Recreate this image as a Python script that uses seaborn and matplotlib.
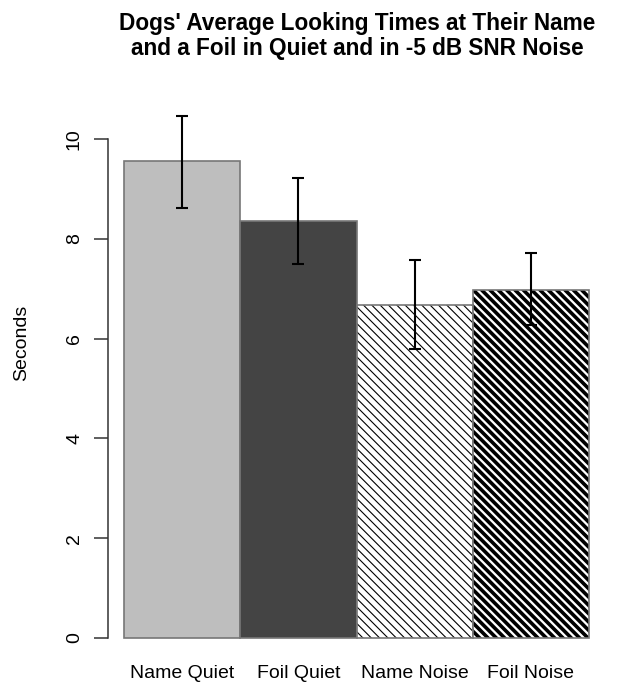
import numpy as np
import pandas as pd
import matplotlib
matplotlib.use('Agg')
import matplotlib.pyplot as plt
import seaborn as sns

# values
conditions = ['Name Quiet', 'Foil Quiet', 'Name Noise', 'Foil Noise']
mean_seconds = [9.56, 8.36, 6.67, 6.97]
err_low = [8.62, 7.49, 5.79, 6.27]
err_high = [10.46, 9.22, 7.57, 7.72]
bar_colors = ['#bebebe', '#444444', '#ffffff', '#ffffff']
hatches = [None, None, '\\\\\\\\', '\\\\\\\\']

sns.set_theme(style='white')
plt.rcParams['font.family'] = ['Liberation Sans', 'DejaVu Sans']
plt.rcParams['text.color'] = 'black'
plt.rcParams['axes.labelcolor'] = 'black'
plt.rcParams['xtick.color'] = 'black'
plt.rcParams['ytick.color'] = 'black'

df = pd.DataFrame({'condition': conditions, 'seconds': mean_seconds})

fig = plt.figure(figsize=(6.27, 6.84), dpi=100)
ax = fig.add_axes([108 / 627, 1 - 648 / 684, 497 / 627, (648 - 104) / 684])

sns.barplot(data=df, x='condition', y='seconds', hue='condition',
            palette=bar_colors, width=1.0, edgecolor='#777777', linewidth=1.2,
            errorbar=None, legend=False, ax=ax)

for i, p in enumerate(ax.patches):
    if hatches[i]:
        p.set_hatch(hatches[i])
        p.set_edgecolor('#777777')
        try:
            p.set_hatch_linewidth(0.8 if i == 2 else 2.6)
        except AttributeError:
            pass
        p._hatch_color = matplotlib.colors.to_rgba('black')

# error bars
x = np.arange(len(conditions))
lo = np.array(mean_seconds) - np.array(err_low)
hi = np.array(err_high) - np.array(mean_seconds)
ax.errorbar(x, mean_seconds, yerr=[lo, hi], fmt='none', ecolor='black',
            elinewidth=1.5, capsize=4.5, capthick=1.5, zorder=5)

ax.set_xlim(-0.638, 3.638)
ax.set_ylim(-0.2, 10.7)
ax.set_yticks([0, 2, 4, 6, 8, 10])
ax.set_yticklabels(['0', '2', '4', '6', '8', '10'], rotation=90, va='center', fontsize=14)
ax.tick_params(axis='y', length=10, width=1.1, color='#333333', pad=8, left=True)
ax.tick_params(axis='x', length=0, pad=12, labelsize=14)
for s in ['top', 'right', 'bottom']:
    ax.spines[s].set_visible(False)
ax.spines['left'].set_bounds(0, 10)
ax.spines['left'].set_color('#333333')
ax.spines['left'].set_linewidth(1.1)
ax.set_xlabel('')
ax.set_ylabel('Seconds', fontsize=14)
ax.yaxis.set_label_coords(-78 / 497, (648 - 343) / (648 - 104))

fig.suptitle("Dogs' Average Looking Times at Their Name\nand a Foil in Quiet and in -5 dB SNR Noise",
             x=357 / 627, y=1 - 12 / 684, fontsize=16.3, fontweight='bold', linespacing=1.1, va='top')

fig.savefig('out.png', dpi=100)
